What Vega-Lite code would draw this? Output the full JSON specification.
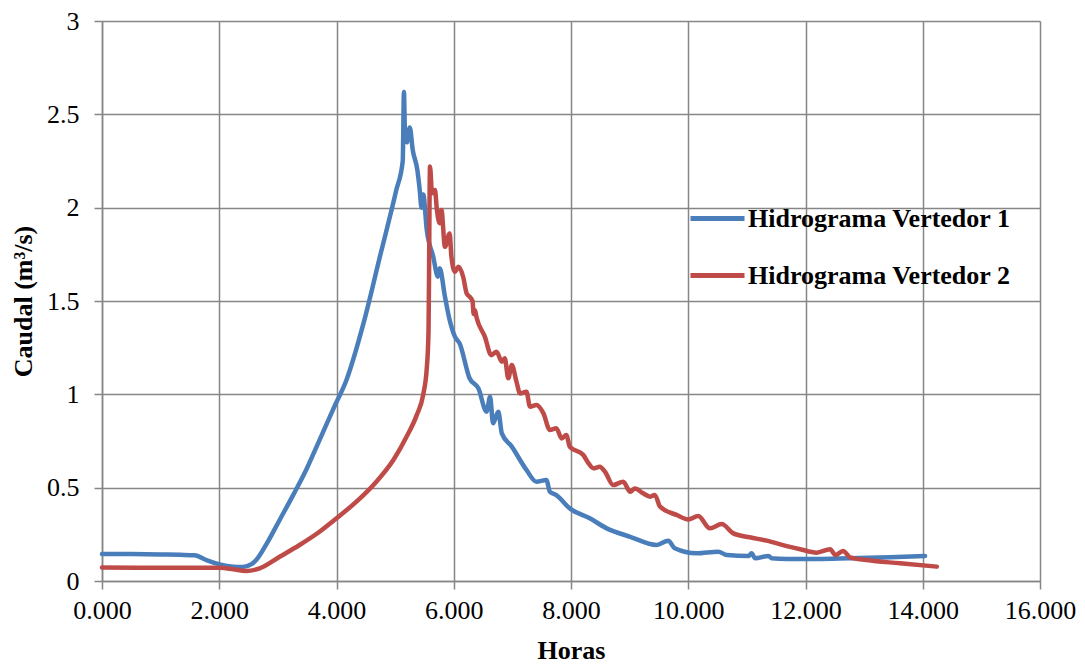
{
  "$schema": "https://vega.github.io/schema/vega-lite/v6.json",
  "width": 938,
  "height": 560,
  "autosize": {"type": "none"},
  "padding": {"left": 102, "top": 21, "right": 45, "bottom": 85},
  "background": "white",
  "config": {
    "view": {"stroke": null},
    "font": "Liberation Serif",
    "axis": {
      "gridColor": "#868686",
      "gridWidth": 1.5,
      "domainColor": "#868686",
      "domainWidth": 1.5,
      "tickColor": "#868686",
      "tickWidth": 1.5,
      "tickSize": 8,
      "labelFont": "Liberation Serif",
      "labelFontSize": 26,
      "labelColor": "black",
      "titleFont": "Liberation Serif",
      "titleFontSize": 26,
      "titleFontWeight": "bold",
      "titleColor": "black"
    }
  },
  "data": {
    "values": [
      {"serie": "Hidrograma Vertedor 1", "horas": 0, "caudal": 0.145},
      {"serie": "Hidrograma Vertedor 1", "horas": 0.5, "caudal": 0.144},
      {"serie": "Hidrograma Vertedor 1", "horas": 1.0, "caudal": 0.142},
      {"serie": "Hidrograma Vertedor 1", "horas": 1.33, "caudal": 0.14},
      {"serie": "Hidrograma Vertedor 1", "horas": 1.58, "caudal": 0.138},
      {"serie": "Hidrograma Vertedor 1", "horas": 1.78, "caudal": 0.112},
      {"serie": "Hidrograma Vertedor 1", "horas": 2.01, "caudal": 0.089},
      {"serie": "Hidrograma Vertedor 1", "horas": 2.24, "caudal": 0.077},
      {"serie": "Hidrograma Vertedor 1", "horas": 2.4, "caudal": 0.075},
      {"serie": "Hidrograma Vertedor 1", "horas": 2.55, "caudal": 0.09},
      {"serie": "Hidrograma Vertedor 1", "horas": 2.63, "caudal": 0.112},
      {"serie": "Hidrograma Vertedor 1", "horas": 2.81, "caudal": 0.2},
      {"serie": "Hidrograma Vertedor 1", "horas": 3.03, "caudal": 0.327},
      {"serie": "Hidrograma Vertedor 1", "horas": 3.26, "caudal": 0.46},
      {"serie": "Hidrograma Vertedor 1", "horas": 3.49, "caudal": 0.6},
      {"serie": "Hidrograma Vertedor 1", "horas": 3.71, "caudal": 0.755},
      {"serie": "Hidrograma Vertedor 1", "horas": 3.95, "caudal": 0.925},
      {"serie": "Hidrograma Vertedor 1", "horas": 4.17, "caudal": 1.077},
      {"serie": "Hidrograma Vertedor 1", "horas": 4.46, "caudal": 1.38},
      {"serie": "Hidrograma Vertedor 1", "horas": 4.74, "caudal": 1.737},
      {"serie": "Hidrograma Vertedor 1", "horas": 5.02, "caudal": 2.094},
      {"serie": "Hidrograma Vertedor 1", "horas": 5.13, "caudal": 2.25},
      {"serie": "Hidrograma Vertedor 1", "horas": 5.15, "caudal": 2.62},
      {"serie": "Hidrograma Vertedor 1", "horas": 5.17, "caudal": 2.38},
      {"serie": "Hidrograma Vertedor 1", "horas": 5.2, "caudal": 2.35},
      {"serie": "Hidrograma Vertedor 1", "horas": 5.25, "caudal": 2.43},
      {"serie": "Hidrograma Vertedor 1", "horas": 5.3, "caudal": 2.31},
      {"serie": "Hidrograma Vertedor 1", "horas": 5.38, "caudal": 2.2},
      {"serie": "Hidrograma Vertedor 1", "horas": 5.42, "caudal": 2.094},
      {"serie": "Hidrograma Vertedor 1", "horas": 5.45, "caudal": 2.0},
      {"serie": "Hidrograma Vertedor 1", "horas": 5.48, "caudal": 2.07},
      {"serie": "Hidrograma Vertedor 1", "horas": 5.54, "caudal": 1.88},
      {"serie": "Hidrograma Vertedor 1", "horas": 5.65, "caudal": 1.737},
      {"serie": "Hidrograma Vertedor 1", "horas": 5.73, "caudal": 1.63},
      {"serie": "Hidrograma Vertedor 1", "horas": 5.76, "caudal": 1.675},
      {"serie": "Hidrograma Vertedor 1", "horas": 5.85, "caudal": 1.523},
      {"serie": "Hidrograma Vertedor 1", "horas": 5.93, "caudal": 1.398},
      {"serie": "Hidrograma Vertedor 1", "horas": 6.02, "caudal": 1.309},
      {"serie": "Hidrograma Vertedor 1", "horas": 6.1, "caudal": 1.273},
      {"serie": "Hidrograma Vertedor 1", "horas": 6.27, "caudal": 1.086},
      {"serie": "Hidrograma Vertedor 1", "horas": 6.42, "caudal": 1.032},
      {"serie": "Hidrograma Vertedor 1", "horas": 6.56, "caudal": 0.907},
      {"serie": "Hidrograma Vertedor 1", "horas": 6.62, "caudal": 0.987},
      {"serie": "Hidrograma Vertedor 1", "horas": 6.67, "caudal": 0.845},
      {"serie": "Hidrograma Vertedor 1", "horas": 6.76, "caudal": 0.907},
      {"serie": "Hidrograma Vertedor 1", "horas": 6.82, "caudal": 0.791},
      {"serie": "Hidrograma Vertedor 1", "horas": 6.99, "caudal": 0.72},
      {"serie": "Hidrograma Vertedor 1", "horas": 7.24, "caudal": 0.595},
      {"serie": "Hidrograma Vertedor 1", "horas": 7.41, "caudal": 0.532},
      {"serie": "Hidrograma Vertedor 1", "horas": 7.58, "caudal": 0.541},
      {"serie": "Hidrograma Vertedor 1", "horas": 7.64, "caudal": 0.478},
      {"serie": "Hidrograma Vertedor 1", "horas": 7.75, "caudal": 0.46},
      {"serie": "Hidrograma Vertedor 1", "horas": 7.98, "caudal": 0.389},
      {"serie": "Hidrograma Vertedor 1", "horas": 8.32, "caudal": 0.336},
      {"serie": "Hidrograma Vertedor 1", "horas": 8.61, "caudal": 0.282},
      {"serie": "Hidrograma Vertedor 1", "horas": 9.01, "caudal": 0.237},
      {"serie": "Hidrograma Vertedor 1", "horas": 9.46, "caudal": 0.193},
      {"serie": "Hidrograma Vertedor 1", "horas": 9.66, "caudal": 0.216},
      {"serie": "Hidrograma Vertedor 1", "horas": 9.77, "caudal": 0.175},
      {"serie": "Hidrograma Vertedor 1", "horas": 10.14, "caudal": 0.148},
      {"serie": "Hidrograma Vertedor 1", "horas": 10.51, "caudal": 0.157},
      {"serie": "Hidrograma Vertedor 1", "horas": 10.66, "caudal": 0.139},
      {"serie": "Hidrograma Vertedor 1", "horas": 11.03, "caudal": 0.134},
      {"serie": "Hidrograma Vertedor 1", "horas": 11.08, "caudal": 0.148},
      {"serie": "Hidrograma Vertedor 1", "horas": 11.14, "caudal": 0.122},
      {"serie": "Hidrograma Vertedor 1", "horas": 11.37, "caudal": 0.134},
      {"serie": "Hidrograma Vertedor 1", "horas": 11.42, "caudal": 0.122},
      {"serie": "Hidrograma Vertedor 1", "horas": 11.68, "caudal": 0.118},
      {"serie": "Hidrograma Vertedor 1", "horas": 12.19, "caudal": 0.118},
      {"serie": "Hidrograma Vertedor 1", "horas": 12.76, "caudal": 0.122},
      {"serie": "Hidrograma Vertedor 1", "horas": 13.44, "caudal": 0.127},
      {"serie": "Hidrograma Vertedor 1", "horas": 14.04, "caudal": 0.134},
      {"serie": "Hidrograma Vertedor 2", "horas": 0, "caudal": 0.072},
      {"serie": "Hidrograma Vertedor 2", "horas": 1.0, "caudal": 0.071},
      {"serie": "Hidrograma Vertedor 2", "horas": 2.01, "caudal": 0.071},
      {"serie": "Hidrograma Vertedor 2", "horas": 2.24, "caudal": 0.063},
      {"serie": "Hidrograma Vertedor 2", "horas": 2.46, "caudal": 0.054},
      {"serie": "Hidrograma Vertedor 2", "horas": 2.69, "caudal": 0.068},
      {"serie": "Hidrograma Vertedor 2", "horas": 3.03, "caudal": 0.13},
      {"serie": "Hidrograma Vertedor 2", "horas": 3.37, "caudal": 0.193},
      {"serie": "Hidrograma Vertedor 2", "horas": 3.71, "caudal": 0.264},
      {"serie": "Hidrograma Vertedor 2", "horas": 4.0, "caudal": 0.336},
      {"serie": "Hidrograma Vertedor 2", "horas": 4.34, "caudal": 0.425},
      {"serie": "Hidrograma Vertedor 2", "horas": 4.68, "caudal": 0.532},
      {"serie": "Hidrograma Vertedor 2", "horas": 4.97, "caudal": 0.648},
      {"serie": "Hidrograma Vertedor 2", "horas": 5.19, "caudal": 0.77},
      {"serie": "Hidrograma Vertedor 2", "horas": 5.37, "caudal": 0.89},
      {"serie": "Hidrograma Vertedor 2", "horas": 5.48, "caudal": 1.0},
      {"serie": "Hidrograma Vertedor 2", "horas": 5.54, "caudal": 1.14},
      {"serie": "Hidrograma Vertedor 2", "horas": 5.57, "caudal": 1.34},
      {"serie": "Hidrograma Vertedor 2", "horas": 5.58, "caudal": 1.7},
      {"serie": "Hidrograma Vertedor 2", "horas": 5.585, "caudal": 1.95},
      {"serie": "Hidrograma Vertedor 2", "horas": 5.595, "caudal": 2.22},
      {"serie": "Hidrograma Vertedor 2", "horas": 5.63, "caudal": 2.077},
      {"serie": "Hidrograma Vertedor 2", "horas": 5.68, "caudal": 2.094},
      {"serie": "Hidrograma Vertedor 2", "horas": 5.71, "caudal": 1.996},
      {"serie": "Hidrograma Vertedor 2", "horas": 5.76, "caudal": 1.916},
      {"serie": "Hidrograma Vertedor 2", "horas": 5.79, "caudal": 1.987},
      {"serie": "Hidrograma Vertedor 2", "horas": 5.85, "caudal": 1.79},
      {"serie": "Hidrograma Vertedor 2", "horas": 5.93, "caudal": 1.862},
      {"serie": "Hidrograma Vertedor 2", "horas": 5.96, "caudal": 1.737},
      {"serie": "Hidrograma Vertedor 2", "horas": 6.02, "caudal": 1.657},
      {"serie": "Hidrograma Vertedor 2", "horas": 6.08, "caudal": 1.683},
      {"serie": "Hidrograma Vertedor 2", "horas": 6.16, "caudal": 1.63},
      {"serie": "Hidrograma Vertedor 2", "horas": 6.22, "caudal": 1.541},
      {"serie": "Hidrograma Vertedor 2", "horas": 6.27, "caudal": 1.523},
      {"serie": "Hidrograma Vertedor 2", "horas": 6.32, "caudal": 1.5},
      {"serie": "Hidrograma Vertedor 2", "horas": 6.34, "caudal": 1.43},
      {"serie": "Hidrograma Vertedor 2", "horas": 6.36, "caudal": 1.452},
      {"serie": "Hidrograma Vertedor 2", "horas": 6.39, "caudal": 1.41},
      {"serie": "Hidrograma Vertedor 2", "horas": 6.53, "caudal": 1.309},
      {"serie": "Hidrograma Vertedor 2", "horas": 6.64, "caudal": 1.21},
      {"serie": "Hidrograma Vertedor 2", "horas": 6.73, "caudal": 1.228},
      {"serie": "Hidrograma Vertedor 2", "horas": 6.82, "caudal": 1.175},
      {"serie": "Hidrograma Vertedor 2", "horas": 6.87, "caudal": 1.193},
      {"serie": "Hidrograma Vertedor 2", "horas": 6.93, "caudal": 1.086},
      {"serie": "Hidrograma Vertedor 2", "horas": 6.99, "caudal": 1.157},
      {"serie": "Hidrograma Vertedor 2", "horas": 7.07, "caudal": 1.068},
      {"serie": "Hidrograma Vertedor 2", "horas": 7.13, "caudal": 1.005},
      {"serie": "Hidrograma Vertedor 2", "horas": 7.24, "caudal": 1.014},
      {"serie": "Hidrograma Vertedor 2", "horas": 7.3, "caudal": 0.934},
      {"serie": "Hidrograma Vertedor 2", "horas": 7.41, "caudal": 0.943},
      {"serie": "Hidrograma Vertedor 2", "horas": 7.53, "caudal": 0.898},
      {"serie": "Hidrograma Vertedor 2", "horas": 7.64, "caudal": 0.809},
      {"serie": "Hidrograma Vertedor 2", "horas": 7.75, "caudal": 0.818},
      {"serie": "Hidrograma Vertedor 2", "horas": 7.84, "caudal": 0.764},
      {"serie": "Hidrograma Vertedor 2", "horas": 7.92, "caudal": 0.782},
      {"serie": "Hidrograma Vertedor 2", "horas": 7.98, "caudal": 0.719},
      {"serie": "Hidrograma Vertedor 2", "horas": 8.21, "caudal": 0.675},
      {"serie": "Hidrograma Vertedor 2", "horas": 8.3, "caudal": 0.63},
      {"serie": "Hidrograma Vertedor 2", "horas": 8.38, "caudal": 0.604},
      {"serie": "Hidrograma Vertedor 2", "horas": 8.49, "caudal": 0.612},
      {"serie": "Hidrograma Vertedor 2", "horas": 8.58, "caudal": 0.585},
      {"serie": "Hidrograma Vertedor 2", "horas": 8.72, "caudal": 0.514},
      {"serie": "Hidrograma Vertedor 2", "horas": 8.89, "caudal": 0.532},
      {"serie": "Hidrograma Vertedor 2", "horas": 9.01, "caudal": 0.478},
      {"serie": "Hidrograma Vertedor 2", "horas": 9.09, "caudal": 0.496},
      {"serie": "Hidrograma Vertedor 2", "horas": 9.23, "caudal": 0.47},
      {"serie": "Hidrograma Vertedor 2", "horas": 9.35, "caudal": 0.452},
      {"serie": "Hidrograma Vertedor 2", "horas": 9.43, "caudal": 0.461},
      {"serie": "Hidrograma Vertedor 2", "horas": 9.52, "caudal": 0.398},
      {"serie": "Hidrograma Vertedor 2", "horas": 9.8, "caudal": 0.354},
      {"serie": "Hidrograma Vertedor 2", "horas": 10.0, "caudal": 0.33},
      {"serie": "Hidrograma Vertedor 2", "horas": 10.17, "caudal": 0.348},
      {"serie": "Hidrograma Vertedor 2", "horas": 10.37, "caudal": 0.282},
      {"serie": "Hidrograma Vertedor 2", "horas": 10.57, "caudal": 0.305},
      {"serie": "Hidrograma Vertedor 2", "horas": 10.77, "caudal": 0.255},
      {"serie": "Hidrograma Vertedor 2", "horas": 11.05, "caudal": 0.234},
      {"serie": "Hidrograma Vertedor 2", "horas": 11.34, "caudal": 0.216},
      {"serie": "Hidrograma Vertedor 2", "horas": 11.68, "caudal": 0.187},
      {"serie": "Hidrograma Vertedor 2", "horas": 11.91, "caudal": 0.17},
      {"serie": "Hidrograma Vertedor 2", "horas": 12.19, "caudal": 0.152},
      {"serie": "Hidrograma Vertedor 2", "horas": 12.42, "caudal": 0.17},
      {"serie": "Hidrograma Vertedor 2", "horas": 12.51, "caudal": 0.139},
      {"serie": "Hidrograma Vertedor 2", "horas": 12.64, "caudal": 0.161},
      {"serie": "Hidrograma Vertedor 2", "horas": 12.76, "caudal": 0.127},
      {"serie": "Hidrograma Vertedor 2", "horas": 13.04, "caudal": 0.112},
      {"serie": "Hidrograma Vertedor 2", "horas": 13.61, "caudal": 0.095},
      {"serie": "Hidrograma Vertedor 2", "horas": 14.24, "caudal": 0.077}
    ]
  },
  "mark": {"type": "line", "strokeWidth": 4.5, "interpolate": "monotone", "strokeCap": "round", "strokeJoin": "round"},
  "encoding": {
    "x": {
      "field": "horas",
      "type": "quantitative",
      "scale": {"domain": [0, 16], "nice": false, "zero": false},
      "axis": {
        "title": "Horas",
        "values": [0, 2, 4, 6, 8, 10, 12, 14, 16],
        "format": ".3f",
        "labelPadding": 8,
        "titlePadding": 14,
        "labelFlush": false
      }
    },
    "y": {
      "field": "caudal",
      "type": "quantitative",
      "scale": {"domain": [0, 3], "nice": false},
      "axis": {
        "title": "Caudal (m³/s)",
        "values": [0, 0.5, 1, 1.5, 2, 2.5, 3],
        "format": "~g",
        "labelPadding": 15,
        "titlePadding": 10,
        "labelFlush": false
      }
    },
    "color": {
      "field": "serie",
      "type": "nominal",
      "scale": {
        "domain": ["Hidrograma Vertedor 1", "Hidrograma Vertedor 2"],
        "range": ["#4a7ebb", "#be4b48"]
      },
      "legend": {
        "title": null,
        "orient": "none",
        "legendX": 586,
        "legendY": 168,
        "padding": 0,
        "symbolType": "stroke",
        "symbolSize": 2916,
        "symbolStrokeWidth": 5,
        "labelFont": "Liberation Serif",
        "labelFontSize": 26,
        "labelFontWeight": "bold",
        "labelColor": "black",
        "labelOffset": 1,
        "rowPadding": 14,
        "labelLimit": 400
      }
    }
  }
}
